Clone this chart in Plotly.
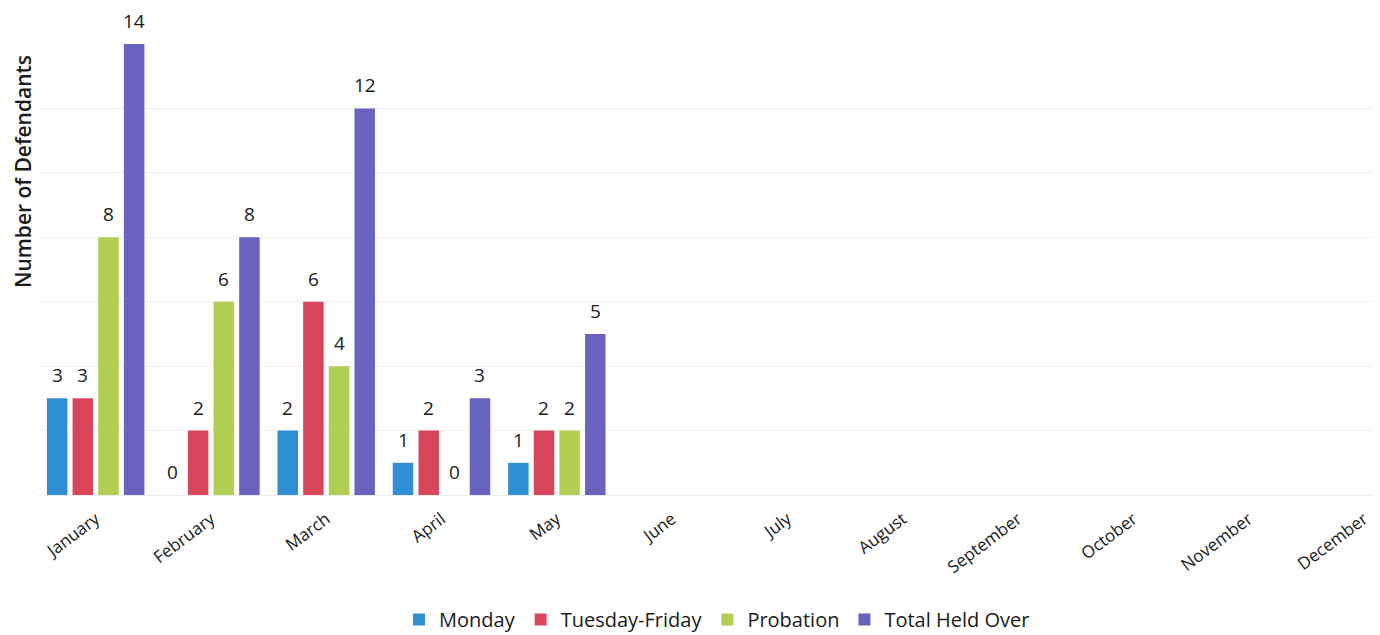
import plotly.graph_objects as go

months = ["January", "February", "March", "April", "May", "June", "July",
          "August", "September", "October", "November", "December"]
series_names = ["Monday", "Tuesday-Friday", "Probation", "Total Held Over"]
monday = [3, 0, 2, 1, 1]
tuesday_friday = [3, 2, 6, 2, 2]
probation = [8, 6, 4, 0, 2]
total_held_over = [14, 8, 12, 3, 5]
colors = ["#2f8fd4", "#d8465c", "#b1cf52", "#6a62bf"]

all_values = [monday, tuesday_friday, probation, total_held_over]

FONT = "Open Sans"
fig = go.Figure()
for name, vals, col in zip(series_names, all_values, colors):
    fig.add_trace(go.Bar(
        x=months[:len(vals)], y=vals, name=name,
        marker=dict(color=col, line=dict(width=0)),
    ))

# layout geometry (figure coordinates; page has an 8px body margin)
W, H = 1380, 635
left_px, right_px = 30, 1372
top_px, bottom_px = 36, 487
n_slots = 4
bargap = 0.11
unit_px = (right_px - left_px) / (11.14 + 0.5)
slot_px = unit_px * (1 - bargap) / n_slots
plot_w = right_px - left_px
plot_h = bottom_px - top_px

annotations = []
for i, vals in enumerate(all_values):
    for m, v in zip(months, vals):
        annotations.append(dict(
            x=m, y=v, xref="x", yref="y", text=str(v), showarrow=False,
            xshift=(i - 1.5) * slot_px, yshift=8, yanchor="bottom",
            font=dict(family=FONT, size=19, color="#1a1a1a"),
        ))

annotations.append(dict(
    x=(15 - left_px) / plot_w, y=(bottom_px - 164) / plot_h,
    xref="paper", yref="paper", text="Number of Defendants",
    showarrow=False, textangle=-90, xanchor="center", yanchor="middle",
    font=dict(family=FONT, size=21, color="#1a1a1a", weight=600),
))

fig.update_layout(
    width=W, height=H,
    paper_bgcolor="white", plot_bgcolor="white",
    margin=dict(l=left_px, r=W - right_px, t=top_px, b=H - bottom_px, autoexpand=False),
    barmode="group", bargap=bargap, bargroupgap=0.2,
    annotations=annotations,
    font=dict(family=FONT, color="#1a1a1a"),
    legend=dict(orientation="h", x=(709 - left_px) / plot_w, xanchor="center",
                y=-(592 - bottom_px) / plot_h, yanchor="top",
                font=dict(family=FONT, size=20, color="#1a1a1a"),
                itemwidth=30, tracegroupgap=0),
    xaxis=dict(categoryorder="array", categoryarray=months,
               range=[-0.5, 11.14], tickangle=-37, automargin=False,
               tickfont=dict(family=FONT, size=17, color="#1a1a1a"),
               ticklabelstandoff=10,
               showline=False, ticks="", showgrid=False),
    yaxis=dict(range=[0, 14], dtick=2, showticklabels=False, automargin=False,
               showgrid=True, gridcolor="#f0f0f0", gridwidth=1,
               zeroline=True, zerolinecolor="#ececec", zerolinewidth=1),
)

fig.write_html("out.html")
